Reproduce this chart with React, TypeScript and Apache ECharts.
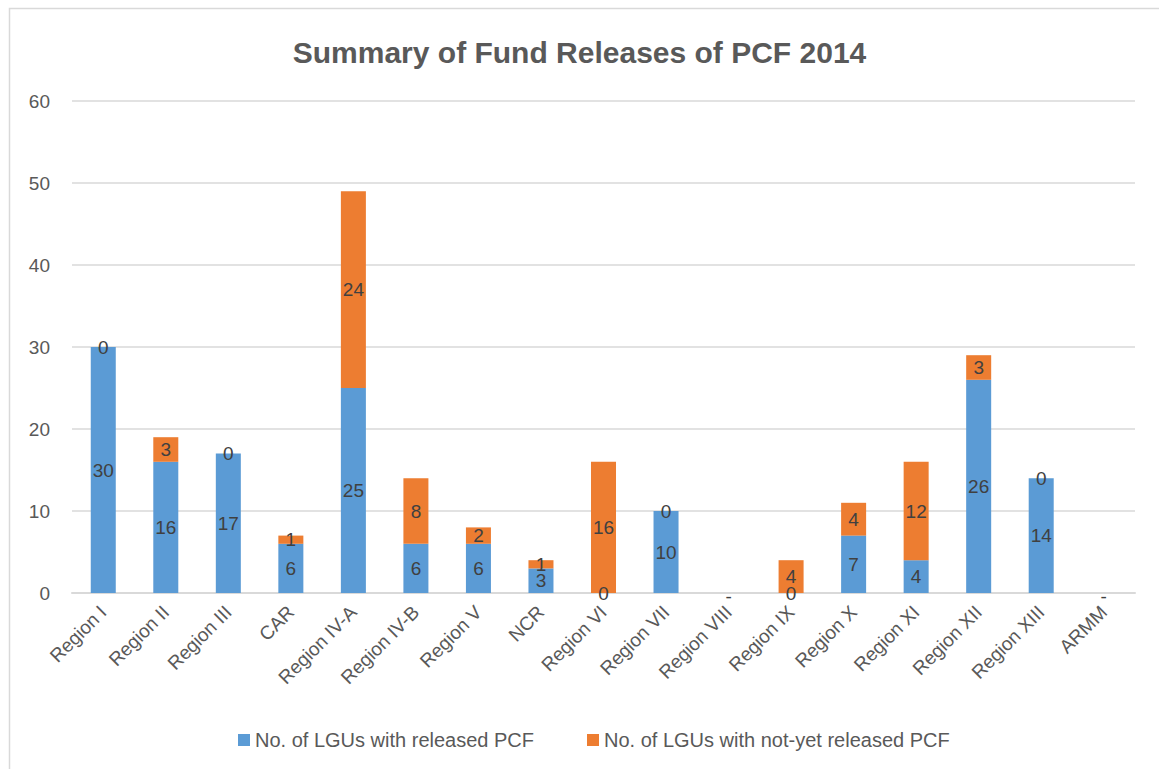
import React, { useEffect, useRef } from "react";
import * as echarts from "echarts";

const categories = [
  "Region I", "Region II", "Region III", "CAR", "Region IV-A", "Region IV-B",
  "Region V", "NCR", "Region VI", "Region VII", "Region VIII", "Region IX",
  "Region X", "Region XI", "Region XII", "Region XIII", "ARMM",
];
const released: (number | null)[] = [30, 16, 17, 6, 25, 6, 6, 3, 0, 10, null, 0, 7, 4, 26, 14, null];
const notYet: (number | null)[] = [0, 3, 0, 1, 24, 8, 2, 1, 16, 0, null, 4, 4, 12, 3, 0, null];
const yTicks = [0, 10, 20, 30, 40, 50, 60];

const seriesNames = ["No. of LGUs with released PCF", "No. of LGUs with not-yet released PCF"];
const FONT = "Liberation Sans, Arial, sans-serif";

export default function App() {
  const ref = useRef<HTMLDivElement>(null);
  useEffect(() => {
    if (!ref.current) return;
    const chart = echarts.init(ref.current, undefined, { renderer: "svg" });
    const labelStyle = { show: true, position: "inside" as const, color: "#404040", fontSize: 19, fontFamily: FONT };
    chart.setOption({
      animation: false,
      backgroundColor: "#ffffff",
      title: {
        text: "Summary of Fund Releases of PCF 2014",
        left: "center",
        top: 32,
        textStyle: { color: "#595959", fontSize: 30, fontWeight: "bold", fontFamily: FONT },
      },
      graphic: [
        {
          type: "rect",
          shape: { x: 9.5, y: 8.5, width: 1300, height: 900 },
          style: { fill: "none", stroke: "#d9d9d9", lineWidth: 1.5 },
          silent: true,
        },
      ],
      legend: {
        bottom: 14,
        left: 233,
        itemWidth: 12,
        itemHeight: 12,
        itemGap: 53,
        icon: "rect",
        textStyle: { color: "#595959", fontSize: 20, fontFamily: FONT },
        data: seriesNames,
      },
      grid: { left: 72, right: 24, top: 101, bottom: 176, containLabel: false },
      xAxis: {
        type: "category",
        data: categories,
        axisLine: { lineStyle: { color: "#d9d9d9", width: 2 } },
        axisTick: { show: false },
        axisLabel: { rotate: 45, color: "#595959", fontSize: 19, fontFamily: FONT, margin: 16, interval: 0 },
      },
      yAxis: {
        type: "value",
        min: yTicks[0],
        max: yTicks[yTicks.length - 1],
        interval: 10,
        axisLine: { show: false },
        axisTick: { show: false },
        splitLine: { lineStyle: { color: "#d9d9d9", width: 1.5 } },
        axisLabel: { color: "#595959", fontSize: 19, fontFamily: FONT, margin: 22 },
      },
      series: [
        {
          name: seriesNames[0],
          type: "bar",
          stack: "total",
          barWidth: "40%",
          itemStyle: { color: "#5b9bd5" },
          label: labelStyle,
          data: released.map((v) =>
            v === null ? { value: 0, label: { formatter: "-", offset: [0, 3] } } : v
          ),
        },
        {
          name: seriesNames[1],
          type: "bar",
          stack: "total",
          barWidth: "40%",
          itemStyle: { color: "#ed7d31" },
          label: labelStyle,
          data: notYet.map((v) => (v === null ? null : v)),
        },
      ],
    });
    return () => chart.dispose();
  }, []);
  return (
    <div
      ref={ref}
      style={{ position: "absolute", left: 0, top: 0, width: 1159, height: 769 }}
    />
  );
}
